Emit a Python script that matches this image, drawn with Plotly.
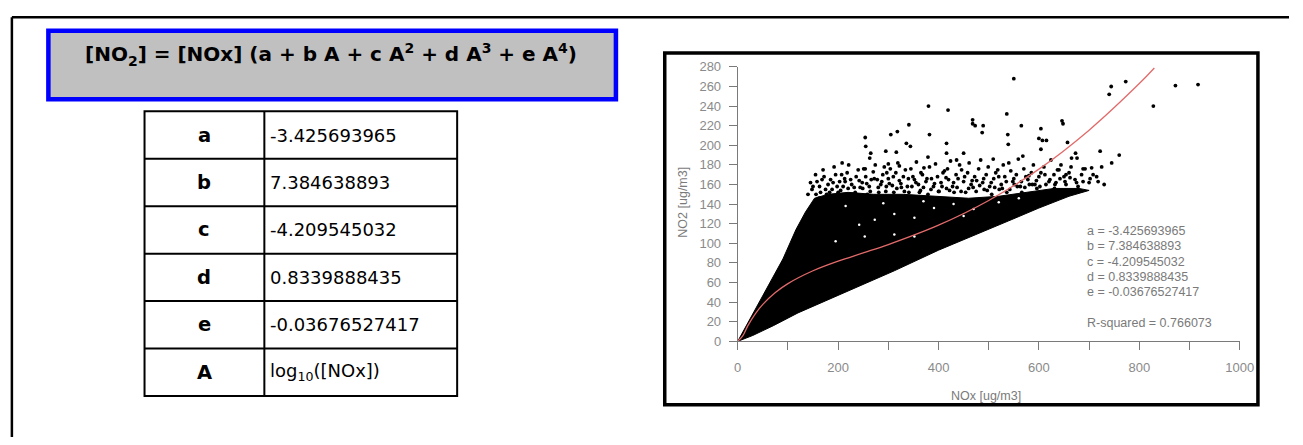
import plotly.graph_objects as go

W, H = 1303, 445

# ---------------- data ----------------
PARAM_NAMES = ["a", "b", "c", "d", "e", "A"]
PARAM_VALUES = ["-3.425693965", "7.384638893", "-4.209545032", "0.8339888435",
                "-0.03676527417", "log<sub>10</sub>([NOx])"]
R_SQUARED = "0.766073"

X_TICKS = [0, 100, 200, 300, 400, 500, 600, 700, 800, 900, 1000]
X_TICK_TEXT = ["0", " ", "200", " ", "400", " ", "600", " ", "800", " ", "1000"]
Y_TICKS = [0, 20, 40, 60, 80, 100, 120, 140, 160, 180, 200, 220, 240, 260, 280]

# dense (solid black) cloud outline
DENSE_X = [0, 51, 90, 116, 135, 153, 180, 220, 270, 330, 400, 460, 520, 580, 630, 680, 700,
           660, 600, 540, 483, 400, 312, 200, 120, 71, 30, 0]
DENSE_Y = [0, 48, 84, 114, 132, 146, 150, 152, 150, 150, 148, 146, 148, 152, 156, 156, 154,
           148, 136, 123, 111, 93, 72, 47, 29, 16, 6, 0]

PTS_X = [140, 150, 158, 165, 172, 180, 188, 195, 203, 210, 218, 225, 232, 240, 248, 255, 262,
         270, 278, 285, 292, 300, 308, 315, 322, 330, 338, 345, 352, 360, 368, 375, 382, 390,
         398, 405, 412, 420, 428, 435, 442, 450, 458, 465, 472, 480, 488, 495, 502, 510, 518,
         525, 532, 540, 548, 555, 563, 570, 578, 585, 592, 600, 610, 620, 630, 640, 650, 660,
         672, 685, 700, 715, 730,
         145, 155, 162, 170, 177, 185, 192, 200, 207, 214, 221, 228, 236, 244, 251, 258, 266,
         274, 281, 289, 296, 304, 311, 319, 326, 334, 341, 349, 356, 364, 371, 379, 386, 394,
         401, 409, 416, 424, 431, 439, 446, 454, 461, 469, 476, 484, 491, 499, 506, 514, 521,
         529, 536, 544, 551, 559, 566, 574, 581, 589, 596, 604, 614, 624, 634, 644, 654, 664,
         678, 692, 708, 725, 745, 760,
         148, 156, 163, 168, 175, 183, 190, 198, 205, 213, 220, 227, 234, 242, 249, 257, 264,
         272, 280, 287, 295, 302, 310, 317, 325, 332, 340, 347, 355, 362, 370, 377, 385, 392,
         400, 407, 415, 422, 430, 437, 445, 452, 460, 467, 475, 482, 490, 497, 505, 512, 520,
         527, 535, 542, 550, 557, 565, 572, 580, 587, 595, 602, 612, 622, 632, 642, 652, 662,
         675, 688, 702, 718,
         208, 254, 255, 265, 263, 295, 305, 318, 316, 341, 336, 344, 380, 382, 379, 419, 416,
         416, 436, 300, 322, 297, 254, 365, 418,
         550, 468, 468, 473, 489, 487, 536, 538, 539, 565, 604, 600, 607, 615, 646, 648, 604,
         657, 673, 676, 722, 665, 688, 705, 744, 740, 773, 828, 872, 917, 450, 509, 568, 637,
         654, 631, 601]
PTS_Y = [150, 158, 163, 152, 168, 160, 155, 170, 163, 158, 172, 165, 157, 175, 162, 168, 158,
         173, 165, 160, 178, 166, 159, 172, 164, 168, 158, 176, 165, 160, 170, 163, 178, 158,
         168, 162, 174, 165, 158, 170, 180, 163, 172, 160, 168, 176, 162, 170, 158, 166, 175,
         160, 168, 182, 163, 170, 158, 176, 165, 172, 160, 168, 178, 163, 170, 175, 168, 172,
         165, 170, 162, 168, 160,
         162, 170, 146, 175, 150, 165, 178, 152, 170, 163, 180, 150, 168, 157, 176, 150, 165,
         180, 152, 170, 158, 176, 152, 182, 157, 175, 152, 168, 183, 154, 177, 150, 166, 181,
         153, 172, 156, 184, 152, 166, 175, 152, 182, 157, 164, 185, 155, 178, 150, 172, 155,
         180, 152, 174, 160, 186, 152, 168, 160, 180, 156, 172, 160, 185, 162, 180, 160, 178,
         158, 176, 170, 178, 182, 190,
         155, 150, 158, 165, 155, 152, 162, 158, 154, 166, 156, 160, 152, 164, 156, 161, 153,
         166, 157, 163, 153, 161, 168, 156, 161, 153, 166, 158, 162, 152, 157, 166, 155, 161,
         153, 158, 167, 154, 162, 157, 153, 168, 156, 164, 153, 159, 166, 154, 162, 157, 168,
         156, 163, 155, 166, 158, 163, 157, 169, 160, 164, 158, 170, 165, 160, 166, 163, 167,
         162, 163, 166, 163,
         182, 208, 199, 192, 187, 194, 211, 214, 193, 221, 202, 199, 240, 211, 188, 236, 202,
         192, 185, 181, 179, 172, 176, 172, 176,
         268, 226, 222, 220, 220, 213, 232, 211, 201, 220, 217, 207, 205, 205, 225, 222, 196,
         203, 192, 187, 194, 187, 176, 177, 260, 252, 265, 240, 261, 262, 192, 186, 189, 175,
         170, 156, 150]

# small white gaps visible inside the upper part of the dense cloud
GAP_X = [242, 273, 312, 352, 391, 195, 253, 312, 352, 430, 470, 520, 560, 215, 290, 370, 450]
GAP_Y = [119, 124, 130, 126, 136, 102, 107, 109, 107, 140, 135, 142, 146, 138, 141, 143, 128]

# fitted curve
CURVE_X = [0, 10, 20, 35, 50, 75, 100, 150, 200, 250, 300, 400, 500, 600, 700, 800, 830]
CURVE_Y = [0, 5.5, 15.8, 28.1, 37.7, 49.8, 58.9, 72.0, 81.8, 90.2, 98.7, 118.5, 143.7, 175.7,
           215.5, 263.0, 278.9]


def px(x):
    return x / W


def py(y):
    return 1 - y / H


fig = go.Figure()

fig.add_trace(go.Scatter(x=DENSE_X, y=DENSE_Y, mode="lines", fill="toself",
                         fillcolor="black", line=dict(color="black", width=1),
                         hoverinfo="skip", showlegend=False))
fig.add_trace(go.Scatter(x=PTS_X, y=PTS_Y, mode="markers",
                         marker=dict(color="black", size=3.8, line=dict(width=0)),
                         showlegend=False))
fig.add_trace(go.Scatter(x=GAP_X, y=GAP_Y, mode="markers",
                         marker=dict(color="white", size=2.5, line=dict(width=0)),
                         hoverinfo="skip", showlegend=False))
fig.add_trace(go.Scatter(x=CURVE_X, y=CURVE_Y, mode="lines",
                         line=dict(color="#e26a6a", width=1.3, shape="spline"),
                         showlegend=False))

axis_font = dict(family="Liberation Sans, Arial, sans-serif", size=13, color="#8a8a8a")

fig.update_xaxes(domain=[px(744), px(1253)], range=[0, 1000], tickvals=X_TICKS,
                 ticktext=X_TICK_TEXT, showline=True, linecolor="#7a7a7a", linewidth=1,
                 ticks="outside", ticklen=8, tickcolor="#7a7a7a", tickfont=axis_font,
                 showgrid=False, zeroline=False, ticklabelstandoff=6)
fig.update_yaxes(domain=[py(346), py(62)], range=[0, 280], tickvals=Y_TICKS,
                 showline=True, linecolor="#7a7a7a", linewidth=1,
                 ticks="outside", ticklen=8, tickcolor="#7a7a7a", tickfont=axis_font,
                 showgrid=False, zeroline=False, ticklabelstandoff=5)

shapes = []
# outer border (top and left)
shapes.append(dict(type="line", xref="paper", yref="paper", x0=px(8), x1=1, y0=py(10.5),
                   y1=py(10.5), line=dict(color="black", width=2.5)))
shapes.append(dict(type="line", xref="paper", yref="paper", x0=px(8), x1=px(8), y0=py(10.5),
                   y1=0, line=dict(color="black", width=2.5)))
# formula box
shapes.append(dict(type="rect", xref="paper", yref="paper", x0=px(45), x1=px(620.5),
                   y0=py(95.5), y1=py(24.5), fillcolor="#c0c0c0",
                   line=dict(color="#0000ff", width=4.5), layer="below"))
# chart frame
shapes.append(dict(type="rect", xref="paper", yref="paper", x0=px(670), x1=px(1271.5),
                   y0=py(411.5), y1=py(47.5), line=dict(color="black", width=3.5)))
# table
t_left, t_mid, t_right, t_top, t_bot = 142.5, 264, 459.5, 108, 402.5
row_h = (t_bot - t_top) / len(PARAM_NAMES)
shapes.append(dict(type="rect", xref="paper", yref="paper", x0=px(t_left), x1=px(t_right),
                   y0=py(t_bot), y1=py(t_top), line=dict(color="black", width=2)))
shapes.append(dict(type="line", xref="paper", yref="paper", x0=px(t_mid), x1=px(t_mid),
                   y0=py(t_bot), y1=py(t_top), line=dict(color="black", width=2)))
for i in range(1, len(PARAM_NAMES)):
    yy = t_top + i * row_h
    shapes.append(dict(type="line", xref="paper", yref="paper", x0=px(t_left), x1=px(t_right),
                       y0=py(yy), y1=py(yy), line=dict(color="black", width=2)))

ann = []
ann.append(dict(xref="paper", yref="paper", x=px(332), y=py(49), showarrow=False,
                text="<b>[NO<sub>2</sub>] = [NOx] (a + b A + c A<sup>2</sup> + d A<sup>3</sup> + e A<sup>4</sup>)</b>",
                font=dict(family="DejaVu Sans, sans-serif", size=20, color="black"),
                xanchor="center", yanchor="middle"))
for i, (n, v) in enumerate(zip(PARAM_NAMES, PARAM_VALUES)):
    yc = t_top + (i + 0.5) * row_h
    ann.append(dict(xref="paper", yref="paper", x=px((t_left + t_mid) / 2), y=py(yc),
                    showarrow=False, text="<b>%s</b>" % n, xanchor="center", yanchor="middle",
                    font=dict(family="DejaVu Sans, sans-serif", size=19.5, color="black")))
    ann.append(dict(xref="paper", yref="paper", x=px(268), y=py(yc), showarrow=False,
                    text=v, xanchor="left", yanchor="middle",
                    font=dict(family="DejaVu Sans, sans-serif", size=18, color="black")))

txt_font = dict(family="Liberation Sans, Arial, sans-serif", size=12.5, color="#7a7a7a")
for i, (n, v) in enumerate(zip(PARAM_NAMES[:5], PARAM_VALUES[:5])):
    ann.append(dict(xref="paper", yref="paper", x=px(1096), y=py(232 + i * 15.8),
                    showarrow=False, text="%s = %s" % (n, v), xanchor="left",
                    yanchor="middle", font=txt_font))
ann.append(dict(xref="paper", yref="paper", x=px(1096), y=py(327), showarrow=False,
                text="R-squared = %s" % R_SQUARED, xanchor="left", yanchor="middle",
                font=txt_font))
# axis titles
ann.append(dict(xref="paper", yref="paper", x=px(996), y=py(403), showarrow=False,
                text="NOx [ug/m3]", xanchor="center", yanchor="middle", font=txt_font))
ann.append(dict(xref="paper", yref="paper", x=px(689), y=py(202), showarrow=False,
                text="NO2 [ug/m3]", textangle=-90, xanchor="center", yanchor="middle",
                font=txt_font))

fig.update_layout(width=W, height=H, margin=dict(l=0, r=0, t=0, b=0),
                  paper_bgcolor="white", plot_bgcolor="white", shapes=shapes,
                  annotations=ann, showlegend=False)

fig.write_html("out.html", config={"displayModeBar": False},
               post_script="document.body.style.margin='0';"
                           "document.body.style.padding='0';"
                           "document.body.style.overflow='hidden';")
